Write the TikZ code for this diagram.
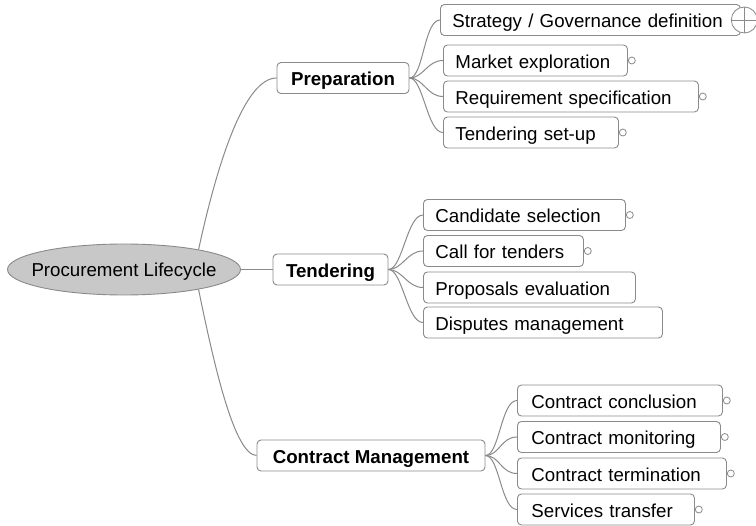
\documentclass[tikz,border=0pt]{standalone}
\usepackage{fontspec}
\setmainfont{Liberation Sans}
\usepackage{xcolor}
\usepackage{tikz}
\usetikzlibrary{positioning,shapes.geometric}
\definecolor{linegray}{HTML}{8A8A8A}
\definecolor{rootfill}{HTML}{C8C8C8}
\begin{document}
\begin{tikzpicture}[x=1pt,y=-1pt,
font=\fontsize{18.7}{22}\selectfont,
root/.style={ellipse,draw=linegray,fill=rootfill,line width=0.9pt,minimum width=233pt,minimum height=51pt,inner xsep=-11.6pt,inner ysep=0pt,text height=15pt,text depth=0pt},
branch/.style={draw=linegray,rounded corners=4pt,line width=0.9pt,minimum height=31pt,inner sep=0pt,text height=16pt,text depth=0pt,font=\fontsize{18.7}{22}\selectfont\bfseries},
leaf/.style={draw=linegray,rounded corners=4pt,line width=0.9pt,anchor=west,minimum height=31pt,inner xsep=12pt,inner ysep=0pt,text height=16pt,text depth=0pt,align=left,text width=#1},
knob/.style={circle,draw=linegray,fill=white,line width=0.8pt,minimum size=7pt,inner sep=0pt},
link/.style={draw=linegray,line width=1pt}]
\useasboundingbox (0,0) rectangle (756,526);
% centre and the three phases
\node[root] (proc) at (124,269.5) {Procurement Lifecycle};
\node[branch,minimum width=132pt] (prep) at (343,78) {Preparation};
\node[branch,minimum width=115pt] (tend) at (330.5,269.5) {Tendering};
\node[branch,minimum width=228pt] (cmgmt) at (371,455.5) {Contract Management};
\draw[link] (proc.15) .. controls (218,160) and (245,78) .. (prep.west);
\draw[link] (proc.east) -- (tend.west);
\draw[link] (proc.-15) .. controls (215,370) and (235,455) .. (cmgmt.west);
% preparation
\node[leaf=276pt] (strat) at (440,20) {Strategy / Governance definition};
\node[leaf=160pt] (market) at (443,60.5) {Market exploration};
\node[leaf=231pt] (reqspec) at (443,96.5) {Requirement specification};
\node[leaf=151pt] (tsetup) at (443,132.5) {Tendering set-up};
% tendering
\node[leaf=178pt] (cand) at (423,215) {Candidate selection};
\node[leaf=136pt] (call) at (423,251) {Call for tenders};
\node[leaf=188pt] (prop) at (423,287.5) {Proposals evaluation};
\node[leaf=215pt] (disp) at (423,322.5) {Disputes management};
% contract management
\node[leaf=177pt,inner xsep=14pt] (concl) at (517,400.5) {Contract conclusion};
\node[leaf=175pt,inner xsep=14pt] (monit) at (517,437) {Contract monitoring};
\node[leaf=181pt,inner xsep=14pt] (termin) at (517,473.5) {Contract termination};
\node[leaf=149pt,inner xsep=14pt] (transf) at (517,509.5) {Services transfer};
\foreach \a/\b in {prep/strat,prep/market,prep/reqspec,prep/tsetup,
tend/cand,tend/call,tend/prop,tend/disp,
cmgmt/concl,cmgmt/monit,cmgmt/termin,cmgmt/transf}
\draw[link] (\a.east) .. controls +(14,0) and +(-16,0) .. (\b.west);
% collapse markers
\foreach \n in {market,reqspec,tsetup,cand,call,concl,monit,termin,transf}
\node[knob,right=0pt of \n] (\n-knob) {};
\node[knob,minimum size=26pt,right=-10pt of strat] (strat-knob) {};
\draw[linegray,line width=0.8pt] (strat-knob.north) -- (strat-knob.south) (strat-knob.west) -- (strat-knob.east);
\end{tikzpicture}
\end{document}
